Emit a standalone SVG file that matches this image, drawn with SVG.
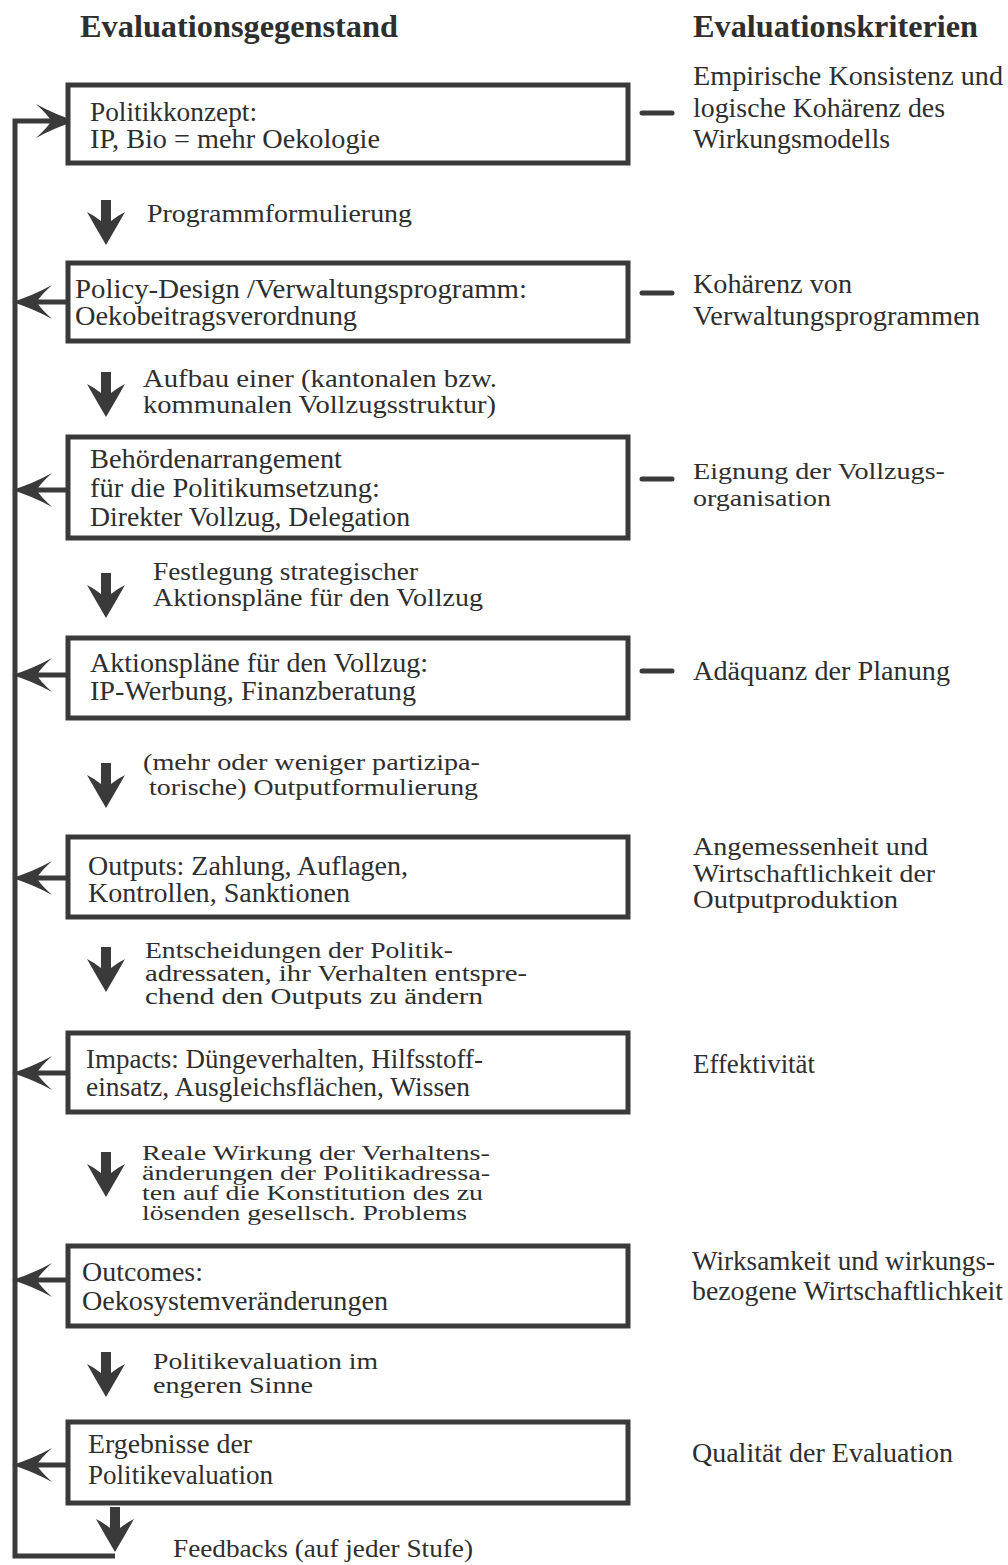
<svg xmlns="http://www.w3.org/2000/svg" xmlns:xlink="http://www.w3.org/1999/xlink" width="1008" height="1565" viewBox="0 0 1008 1565">
<style>
.box{fill:#fff;stroke:#3a3a3a;stroke-width:5}
.ln{fill:none;stroke:#3a3a3a;stroke-width:5}
.dash{stroke:#3a3a3a;stroke-width:5;stroke-linecap:round}
.hd{fill:#3a3a3a}
text{font-family:"Liberation Serif","Times New Roman",serif;fill:#2e2e2e}
.t{font-size:27px}
.l{font-size:26px}
.lt{font-size:24px}
.l6{font-size:20px}
.c{font-size:27px}
.ct{font-size:26px}
.ce{font-size:24px}
.h{font-size:31px;font-weight:bold}
</style>
<defs>
<path id="fb" class="hd" d="M0,0 Q20,-6 40,-17 Q27,-5 25,0 Q27,5 40,17 Q20,6 0,0 Z"/>
<path id="dn" class="hd" d="M-5,0 H5 V21 Q11,16 19,12 Q10,28 0,45 Q-10,28 -19,12 Q-11,16 -5,21 Z"/>
</defs>
<g id="headers">
<text class="h" x="80" y="37" textLength="318" lengthAdjust="spacingAndGlyphs">Evaluationsgegenstand</text>
<text class="h" x="693" y="37" textLength="285" lengthAdjust="spacingAndGlyphs">Evaluationskriterien</text>
</g>
<g id="connectors">
<path class="ln" d="M115,1556 H15 V121 H62"/>
<use xlink:href="#fb" href="#fb" transform="translate(76,121) scale(-1,1)"/>
<line class="ln" x1="66" y1="302" x2="22" y2="302"/><use xlink:href="#fb" href="#fb" x="12" y="302"/>
<line class="ln" x1="66" y1="490" x2="22" y2="490"/><use xlink:href="#fb" href="#fb" x="12" y="490"/>
<line class="ln" x1="66" y1="675" x2="22" y2="675"/><use xlink:href="#fb" href="#fb" x="12" y="675"/>
<line class="ln" x1="66" y1="878" x2="22" y2="878"/><use xlink:href="#fb" href="#fb" x="12" y="878"/>
<line class="ln" x1="66" y1="1073" x2="22" y2="1073"/><use xlink:href="#fb" href="#fb" x="12" y="1073"/>
<line class="ln" x1="66" y1="1280" x2="22" y2="1280"/><use xlink:href="#fb" href="#fb" x="12" y="1280"/>
<line class="ln" x1="66" y1="1465" x2="22" y2="1465"/><use xlink:href="#fb" href="#fb" x="12" y="1465"/>
<use xlink:href="#dn" href="#dn" x="106" y="200"/>
<use xlink:href="#dn" href="#dn" x="106" y="372"/>
<use xlink:href="#dn" href="#dn" x="106" y="573"/>
<use xlink:href="#dn" href="#dn" x="106" y="763"/>
<use xlink:href="#dn" href="#dn" x="106" y="947"/>
<use xlink:href="#dn" href="#dn" x="106" y="1152"/>
<use xlink:href="#dn" href="#dn" x="106" y="1352"/>
<use xlink:href="#dn" href="#dn" x="115" y="1507"/>
<line class="dash" x1="642" y1="113" x2="672" y2="113"/>
<line class="dash" x1="642" y1="293" x2="672" y2="293"/>
<line class="dash" x1="642" y1="479" x2="672" y2="479"/>
<line class="dash" x1="642" y1="671" x2="672" y2="671"/>
</g>
<g id="labels">
<text class="l" x="147" y="222" textLength="265" lengthAdjust="spacingAndGlyphs">Programmformulierung</text>
<text class="l" x="143" y="387" textLength="354" lengthAdjust="spacingAndGlyphs">Aufbau einer (kantonalen bzw.</text>
<text class="l" x="143" y="413" textLength="353" lengthAdjust="spacingAndGlyphs">kommunalen Vollzugsstruktur)</text>
<text class="l" x="153" y="580" textLength="265" lengthAdjust="spacingAndGlyphs">Festlegung strategischer</text>
<text class="l" x="153" y="606" textLength="330" lengthAdjust="spacingAndGlyphs">Aktionspläne für den Vollzug</text>
<text class="lt" x="143" y="770" textLength="337" lengthAdjust="spacingAndGlyphs">(mehr oder weniger partizipa-</text>
<text class="lt" x="149" y="795" textLength="329" lengthAdjust="spacingAndGlyphs">torische) Outputformulierung</text>
<text class="lt" x="145" y="958" textLength="308" lengthAdjust="spacingAndGlyphs">Entscheidungen der Politik-</text>
<text class="lt" x="145" y="981" textLength="382" lengthAdjust="spacingAndGlyphs">adressaten, ihr Verhalten entspre-</text>
<text class="lt" x="145" y="1004" textLength="338" lengthAdjust="spacingAndGlyphs">chend den Outputs zu ändern</text>
<text class="l6" x="142" y="1160" textLength="348" lengthAdjust="spacingAndGlyphs">Reale Wirkung der Verhaltens-</text>
<text class="l6" x="142" y="1180" textLength="348" lengthAdjust="spacingAndGlyphs">änderungen der Politikadressa-</text>
<text class="l6" x="142" y="1200" textLength="341" lengthAdjust="spacingAndGlyphs">ten auf die Konstitution des zu</text>
<text class="l6" x="142" y="1220" textLength="325" lengthAdjust="spacingAndGlyphs">lösenden gesellsch. Problems</text>
<text class="lt" x="153" y="1369" textLength="225" lengthAdjust="spacingAndGlyphs">Politikevaluation im</text>
<text class="lt" x="153" y="1393" textLength="160" lengthAdjust="spacingAndGlyphs">engeren Sinne</text>
<text class="l" x="173" y="1557" textLength="300" lengthAdjust="spacingAndGlyphs">Feedbacks (auf jeder Stufe)</text>
</g>
<g id="node1">
<rect class="box" x="68" y="85" width="560" height="78"/>
<text class="t" x="90" y="121" textLength="167" lengthAdjust="spacingAndGlyphs">Politikkonzept:</text>
<text class="t" x="90" y="148" textLength="290" lengthAdjust="spacingAndGlyphs">IP, Bio = mehr Oekologie</text>
</g>
<g id="node2">
<rect class="box" x="68" y="263" width="560" height="78"/>
<text class="t" x="75" y="298" textLength="452" lengthAdjust="spacingAndGlyphs">Policy-Design /Verwaltungsprogramm:</text>
<text class="t" x="75" y="325" textLength="282" lengthAdjust="spacingAndGlyphs">Oekobeitragsverordnung</text>
</g>
<g id="node3">
<rect class="box" x="68" y="437" width="560" height="101"/>
<text class="t" x="90" y="468" textLength="252" lengthAdjust="spacingAndGlyphs">Behördenarrangement</text>
<text class="t" x="90" y="497" textLength="290" lengthAdjust="spacingAndGlyphs">für die Politikumsetzung:</text>
<text class="t" x="90" y="526" textLength="320" lengthAdjust="spacingAndGlyphs">Direkter Vollzug, Delegation</text>
</g>
<g id="node4">
<rect class="box" x="68" y="638" width="560" height="80"/>
<text class="t" x="90" y="672" textLength="338" lengthAdjust="spacingAndGlyphs">Aktionspläne für den Vollzug:</text>
<text class="t" x="90" y="700" textLength="326" lengthAdjust="spacingAndGlyphs">IP-Werbung, Finanzberatung</text>
</g>
<g id="node5">
<rect class="box" x="68" y="837" width="560" height="80"/>
<text class="t" x="88" y="875" textLength="320" lengthAdjust="spacingAndGlyphs">Outputs: Zahlung, Auflagen,</text>
<text class="t" x="88" y="902" textLength="262" lengthAdjust="spacingAndGlyphs">Kontrollen, Sanktionen</text>
</g>
<g id="node6">
<rect class="box" x="68" y="1033" width="560" height="79"/>
<text class="t" x="86" y="1068" textLength="397" lengthAdjust="spacingAndGlyphs">Impacts: Düngeverhalten, Hilfsstoff-</text>
<text class="t" x="86" y="1096" textLength="384" lengthAdjust="spacingAndGlyphs">einsatz, Ausgleichsflächen, Wissen</text>
</g>
<g id="node7">
<rect class="box" x="68" y="1246" width="560" height="80"/>
<text class="t" x="82" y="1281" textLength="121" lengthAdjust="spacingAndGlyphs">Outcomes:</text>
<text class="t" x="82" y="1310" textLength="306" lengthAdjust="spacingAndGlyphs">Oekosystemveränderungen</text>
</g>
<g id="node8">
<rect class="box" x="68" y="1422" width="560" height="81"/>
<text class="t" x="88" y="1453" textLength="164" lengthAdjust="spacingAndGlyphs">Ergebnisse der</text>
<text class="t" x="88" y="1484" textLength="185" lengthAdjust="spacingAndGlyphs">Politikevaluation</text>
</g>
<g id="criteria">
<text class="c" x="693" y="85" textLength="310" lengthAdjust="spacingAndGlyphs">Empirische Konsistenz und</text>
<text class="c" x="693" y="117" textLength="252" lengthAdjust="spacingAndGlyphs">logische Kohärenz des</text>
<text class="c" x="693" y="148" textLength="197" lengthAdjust="spacingAndGlyphs">Wirkungsmodells</text>
<text class="c" x="693" y="293" textLength="159" lengthAdjust="spacingAndGlyphs">Kohärenz von</text>
<text class="c" x="693" y="325" textLength="287" lengthAdjust="spacingAndGlyphs">Verwaltungsprogrammen</text>
<text class="ce" x="693" y="479" textLength="252" lengthAdjust="spacingAndGlyphs">Eignung der Vollzugs-</text>
<text class="ce" x="693" y="506" textLength="138" lengthAdjust="spacingAndGlyphs">organisation</text>
<text class="c" x="693" y="680" textLength="257" lengthAdjust="spacingAndGlyphs">Adäquanz der Planung</text>
<text class="ct" x="693" y="855" textLength="235" lengthAdjust="spacingAndGlyphs">Angemessenheit und</text>
<text class="ct" x="693" y="882" textLength="242" lengthAdjust="spacingAndGlyphs">Wirtschaftlichkeit der</text>
<text class="ct" x="693" y="908" textLength="205" lengthAdjust="spacingAndGlyphs">Outputproduktion</text>
<text class="c" x="693" y="1073" textLength="122" lengthAdjust="spacingAndGlyphs">Effektivität</text>
<text class="c" x="692" y="1270" textLength="303" lengthAdjust="spacingAndGlyphs">Wirksamkeit und wirkungs-</text>
<text class="c" x="692" y="1300" textLength="311" lengthAdjust="spacingAndGlyphs">bezogene Wirtschaftlichkeit</text>
<text class="c" x="692" y="1462" textLength="261" lengthAdjust="spacingAndGlyphs">Qualität der Evaluation</text>
</g>
</svg>
